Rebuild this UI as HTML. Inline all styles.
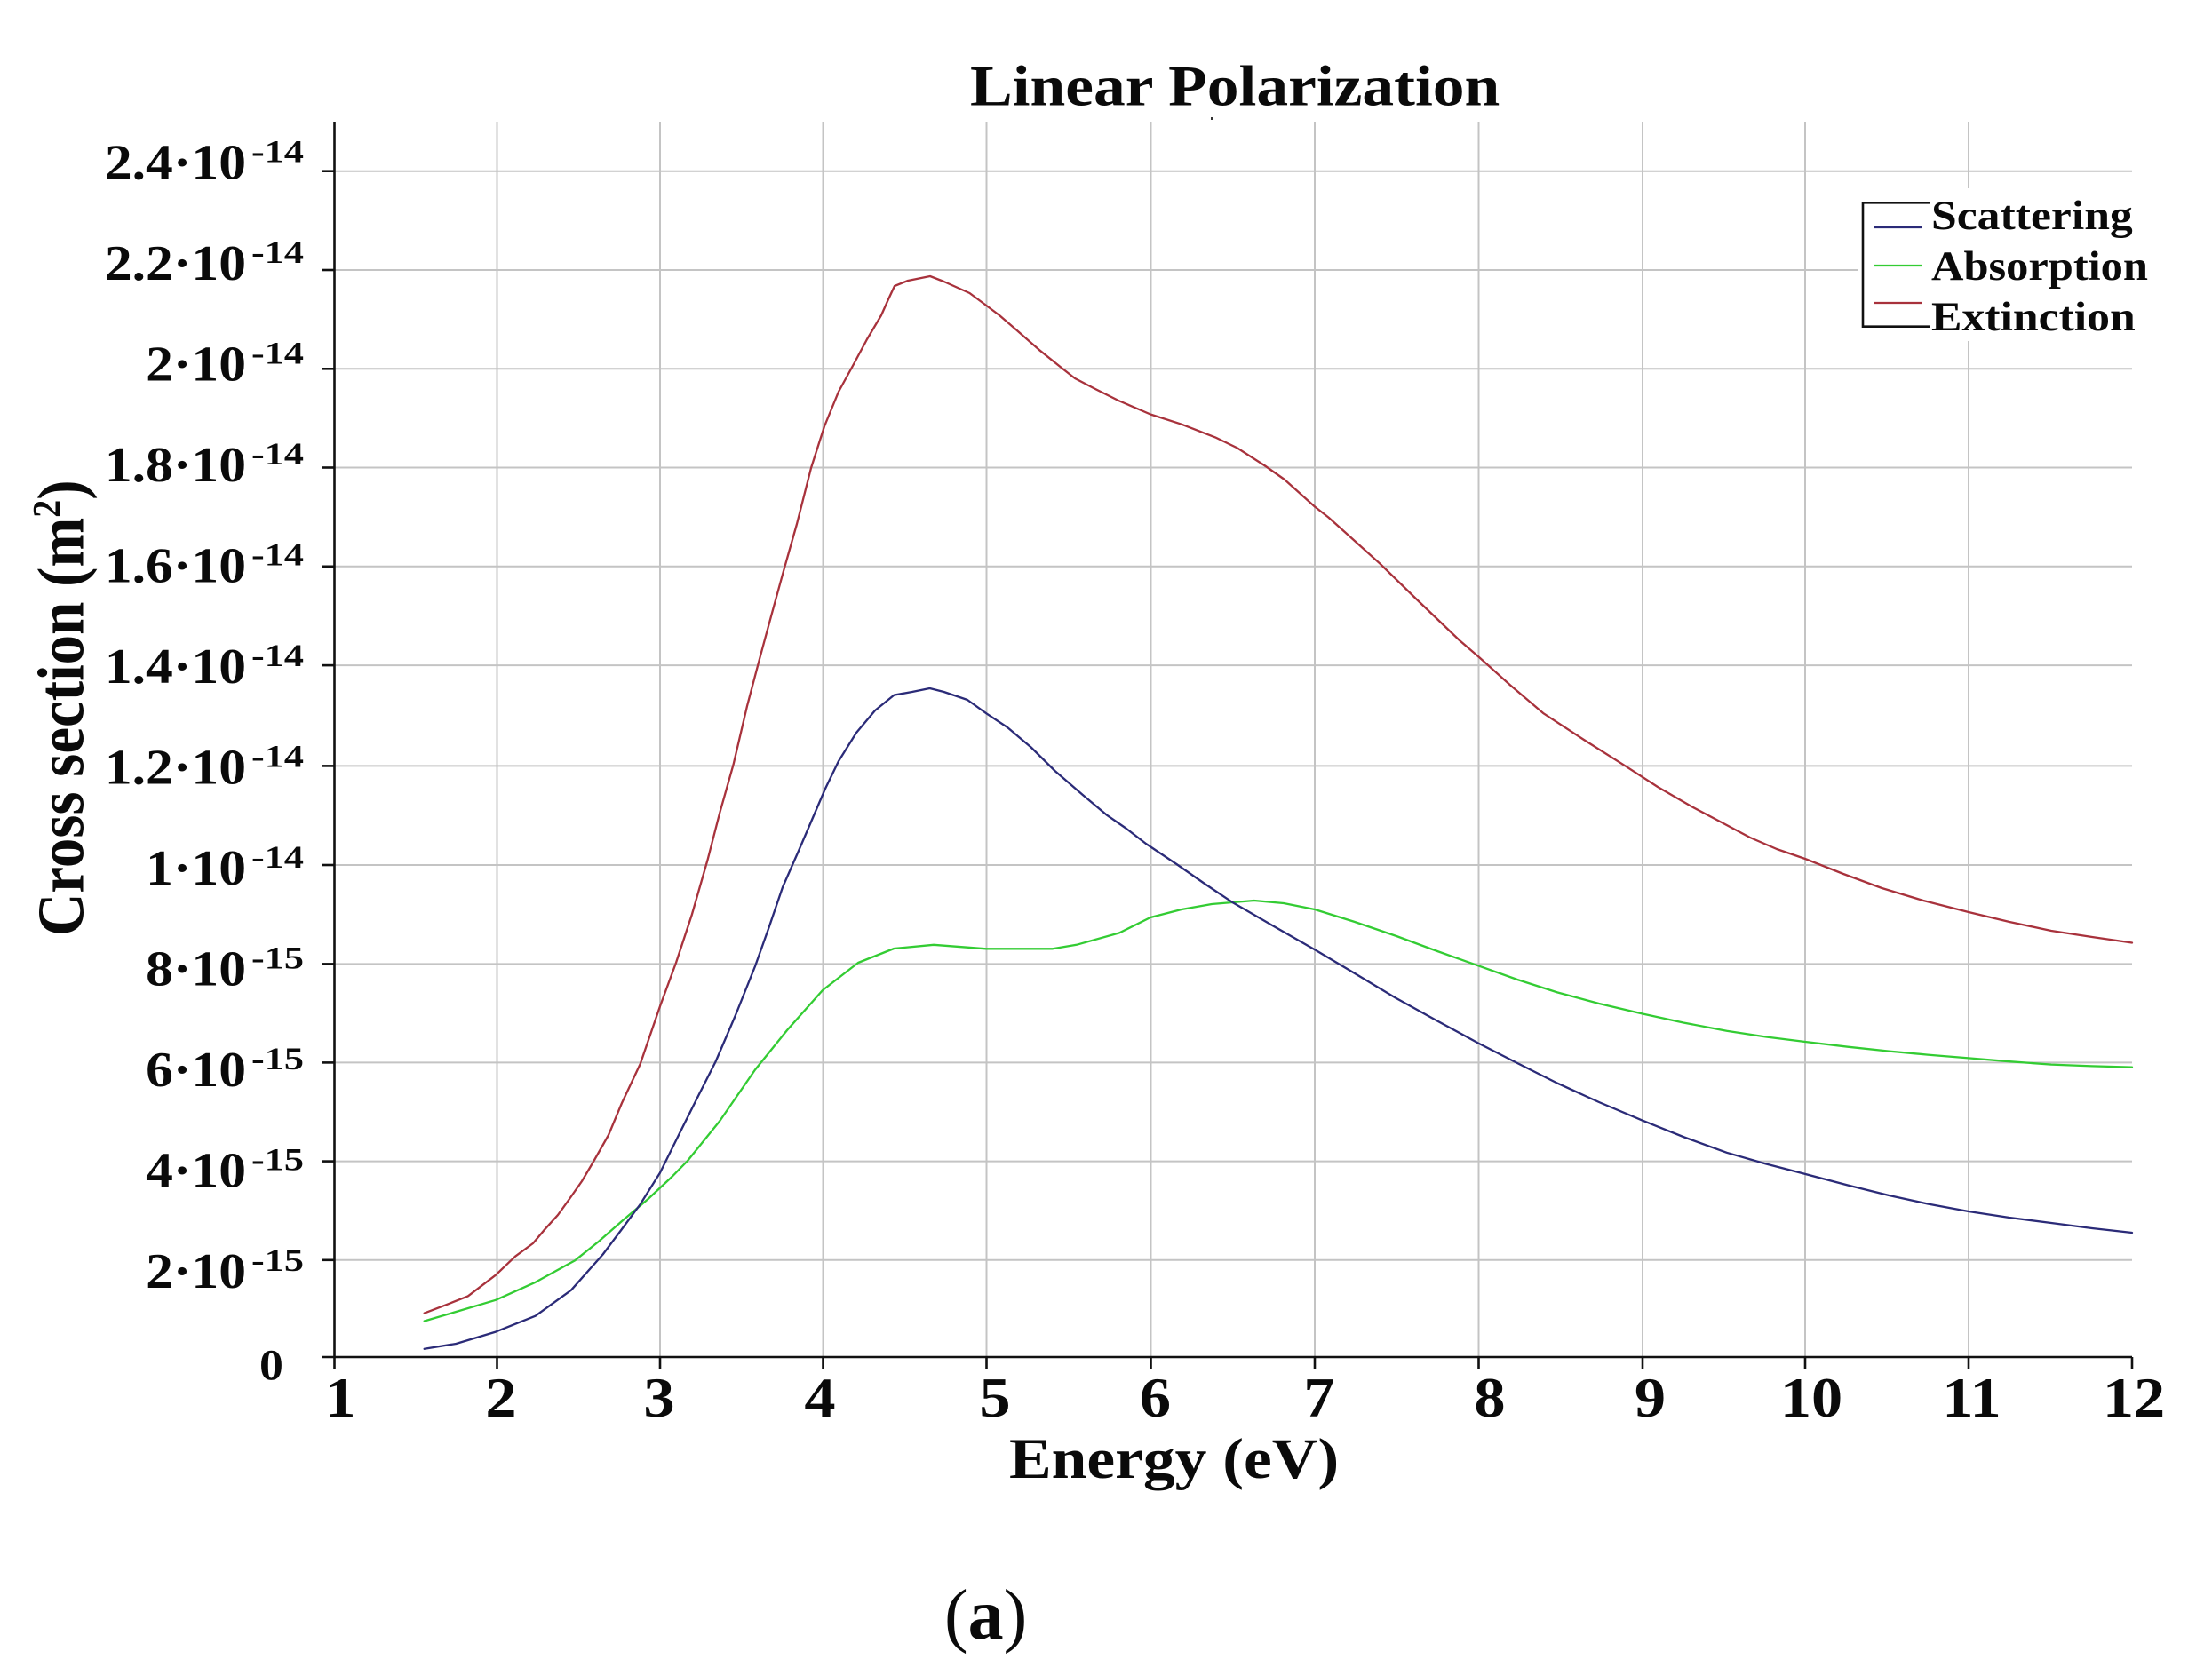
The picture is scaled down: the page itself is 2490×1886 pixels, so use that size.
<!DOCTYPE html>
<html>
<head>
<meta charset="utf-8">
<style>
  html, body { margin: 0; padding: 0; background: #ffffff; }
  svg { display: block; }
  text { font-family: "Liberation Serif", "Times New Roman", serif; font-weight: bold; fill: #0a0a0a; }
</style>
</head>
<body>
<svg width="2490" height="1886" viewBox="0 0 2490 1886" xmlns="http://www.w3.org/2000/svg">
  <rect x="0" y="0" width="2490" height="1886" fill="#ffffff"/>

  <!-- horizontal gridlines -->
  <g stroke="#c4c4c4" stroke-width="2" fill="none">
    <line x1="376.5" y1="192.7" x2="2400" y2="192.7"/>
    <line x1="376.5" y1="304.0" x2="2400" y2="304.0"/>
    <line x1="376.5" y1="415.3" x2="2400" y2="415.3"/>
    <line x1="376.5" y1="526.5" x2="2400" y2="526.5"/>
    <line x1="376.5" y1="637.8" x2="2400" y2="637.8"/>
    <line x1="376.5" y1="749.1" x2="2400" y2="749.1"/>
    <line x1="376.5" y1="862.4" x2="2400" y2="862.4"/>
    <line x1="376.5" y1="974.0" x2="2400" y2="974.0"/>
    <line x1="376.5" y1="1085.4" x2="2400" y2="1085.4"/>
    <line x1="376.5" y1="1196.4" x2="2400" y2="1196.4"/>
    <line x1="376.5" y1="1307.6" x2="2400" y2="1307.6"/>
    <line x1="376.5" y1="1418.8" x2="2400" y2="1418.8"/>
  </g>
  <!-- vertical gridlines -->
  <g stroke="#c4c4c4" stroke-width="2" fill="none">
    <line x1="559.5" y1="137" x2="559.5" y2="1528"/>
    <line x1="743" y1="137" x2="743" y2="1528"/>
    <line x1="926.5" y1="137" x2="926.5" y2="1528"/>
    <line x1="1110.5" y1="137" x2="1110.5" y2="1528"/>
    <line x1="1295.5" y1="137" x2="1295.5" y2="1528"/>
    <line x1="1480" y1="137" x2="1480" y2="1528"/>
    <line x1="1664.5" y1="137" x2="1664.5" y2="1528"/>
    <line x1="1849" y1="137" x2="1849" y2="1528"/>
    <line x1="2032" y1="137" x2="2032" y2="1528"/>
    <line x1="2216" y1="137" x2="2216" y2="1528"/>
  </g>

  <!-- axes -->
  <g stroke="#111111" stroke-width="2.6" fill="none">
    <line x1="376.5" y1="137" x2="376.5" y2="1541"/>
    <line x1="363" y1="1528" x2="2400" y2="1528"/>
    <!-- y ticks -->
    <line x1="363" y1="192.7" x2="376.5" y2="192.7"/>
    <line x1="363" y1="304.0" x2="376.5" y2="304.0"/>
    <line x1="363" y1="415.3" x2="376.5" y2="415.3"/>
    <line x1="363" y1="526.5" x2="376.5" y2="526.5"/>
    <line x1="363" y1="637.8" x2="376.5" y2="637.8"/>
    <line x1="363" y1="749.1" x2="376.5" y2="749.1"/>
    <line x1="363" y1="862.4" x2="376.5" y2="862.4"/>
    <line x1="363" y1="974.0" x2="376.5" y2="974.0"/>
    <line x1="363" y1="1085.4" x2="376.5" y2="1085.4"/>
    <line x1="363" y1="1196.4" x2="376.5" y2="1196.4"/>
    <line x1="363" y1="1307.6" x2="376.5" y2="1307.6"/>
    <line x1="363" y1="1418.8" x2="376.5" y2="1418.8"/>
    <!-- x ticks -->
    <line x1="559.5" y1="1528" x2="559.5" y2="1541"/>
    <line x1="743" y1="1528" x2="743" y2="1541"/>
    <line x1="926.5" y1="1528" x2="926.5" y2="1541"/>
    <line x1="1110.5" y1="1528" x2="1110.5" y2="1541"/>
    <line x1="1295.5" y1="1528" x2="1295.5" y2="1541"/>
    <line x1="1480" y1="1528" x2="1480" y2="1541"/>
    <line x1="1664.5" y1="1528" x2="1664.5" y2="1541"/>
    <line x1="1849" y1="1528" x2="1849" y2="1541"/>
    <line x1="2032" y1="1528" x2="2032" y2="1541"/>
    <line x1="2216" y1="1528" x2="2216" y2="1541"/>
    <line x1="2400" y1="1528" x2="2400" y2="1541"/>
  </g>

  <!-- curves -->
  <g fill="none" stroke-width="2.3" stroke-linejoin="round" stroke-linecap="round">
    <!-- Extinction (red) -->
    <polyline stroke="#a8323c" points="
      477.7,1478.6 504.5,1468.3 526.8,1459.4 558,1435.7 580,1414.7 600,1400 612,1385.7 628,1368 641,1350
      655,1330 668,1308 685,1278 700,1242 720.7,1198 743,1133 761,1084 778.8,1030 796.6,968 810,916
      825.6,860.7 841,795 855,742 868,694 882,643 897,590 913,527 928,480 944,441 961,410 976,382
      992,355 1000,337 1007,322 1022,316 1047,311 1062.5,317 1091.5,330 1109,343 1125,355 1143,370.5
      1169.6,393.8 1196,415 1210,426 1232,437.5 1259,451 1295,466.5 1330,477.7 1368,492.4 1393,504.5
      1424,524.5 1446,540 1480,570.5 1495.5,582.6 1553.6,634.8 1593.8,674 1642.9,721 1665,740 1700,771.4
      1737,802.9 1783,833 1828.6,861.8 1866,886 1904,908 1938,926 1970,943 2000,956 2032,967 2075,984
      2118.4,1000 2165,1014 2216,1027 2262,1038 2309,1048 2355,1055 2400,1061.5"/>
    <!-- Absorption (green) -->
    <polyline stroke="#33cc33" points="
      477.7,1487.5 513.4,1477 558,1463.8 602.7,1443.8 647.3,1419.2 673.8,1398 700,1375 729.6,1350
      756.4,1325 774,1307 810,1262.5 850,1204.5 886,1160 926,1115 966,1084 1006.4,1068 1051,1063.8
      1110,1068.3 1185,1068.3 1211.8,1063.8 1260,1050.4 1295,1033 1330,1024 1364,1018 1411.7,1014
      1445,1017 1480,1024 1525,1038 1572,1054 1618,1071 1664,1087.3 1708,1103 1753,1117.4 1800,1130
      1849,1141.5 1895,1151.5 1943.7,1160.7 1988,1167.5 2032,1173 2080,1178.7 2126.4,1183.6 2170,1187.6
      2216,1191.4 2262,1195.2 2309,1198.6 2355,1200.4 2400,1201.6"/>
    <!-- Scattering (blue) -->
    <polyline stroke="#2b2b78" points="
      477.7,1518.8 513.4,1513 558,1499.6 602.7,1481.7 642.9,1452.7 678.6,1412.5 700,1384 720.7,1356
      743,1320.5 765,1276 785,1236 805.5,1195.5 828,1143 850,1088 866,1043 881,999 899,958 914,923
      929,888 944,857 964,825 985,800 1006.4,782.6 1026.8,779 1046.6,775 1062.5,779 1089,788 1110.7,803.6
      1134,819 1160.7,841.5 1187.5,868 1218.8,895 1245.5,917.4 1268,933 1290,950 1324.4,973 1356,995
      1388,1016.4 1434,1043 1480,1069.3 1525,1096 1570.6,1123.4 1617,1149 1664,1174.5 1708,1197
      1753,1219.6 1800,1241 1849,1261.7 1896,1280.5 1943.7,1297.8 1988,1310.5 2032,1321.9 2080,1334.5
      2126.4,1346 2170,1355.5 2216,1364 2262,1371 2309,1377 2355,1383 2400,1388"/>
  </g>

  <!-- legend -->
  <rect x="2092" y="212" width="352" height="172" fill="#ffffff"/>
  <path d="M2172,228.3 H2097 V367.7 H2172" fill="none" stroke="#111111" stroke-width="2.6"/>
  <line x1="2109" y1="256" x2="2163" y2="256" stroke="#2b2b78" stroke-width="2.3"/>
  <line x1="2109" y1="299" x2="2163" y2="299" stroke="#33cc33" stroke-width="2.3"/>
  <line x1="2109" y1="341" x2="2163" y2="341" stroke="#a8323c" stroke-width="2.3"/>
  <text transform="translate(2174,258) scale(1.1,1)" font-size="47">Scattering</text>
  <text transform="translate(2174,315) scale(1.1,1)" font-size="47" textLength="221.8" lengthAdjust="spacingAndGlyphs">Absorption</text>
  <text transform="translate(2174,372) scale(1.1,1)" font-size="47">Extinction</text>

  <!-- title -->
  <text transform="translate(1092,118.5) scale(1.1,1)" font-size="65">Linear Polarization</text>
  <rect x="1363" y="132" width="3" height="3" fill="#333"/>

  <!-- y tick labels -->
  <g font-size="56" text-anchor="end">
    <text transform="translate(277,201.7) scale(1.1,1)">2.4·10</text>
    <text transform="translate(277,315.2) scale(1.1,1)">2.2·10</text>
    <text transform="translate(277,428.7) scale(1.1,1)">2·10</text>
    <text transform="translate(277,542.2) scale(1.1,1)">1.8·10</text>
    <text transform="translate(277,655.7) scale(1.1,1)">1.6·10</text>
    <text transform="translate(277,769.2) scale(1.1,1)">1.4·10</text>
    <text transform="translate(277,882.7) scale(1.1,1)">1.2·10</text>
    <text transform="translate(277,996.2) scale(1.1,1)">1·10</text>
    <text transform="translate(277,1109.7) scale(1.1,1)">8·10</text>
    <text transform="translate(277,1223.2) scale(1.1,1)">6·10</text>
    <text transform="translate(277,1336.7) scale(1.1,1)">4·10</text>
    <text transform="translate(277,1450.2) scale(1.1,1)">2·10</text>
  </g>
  <g font-size="36">
    <text transform="translate(283,182.7) scale(1.1,1)" textLength="53.6" lengthAdjust="spacingAndGlyphs">-14</text>
    <text transform="translate(283,296.2) scale(1.1,1)" textLength="53.6" lengthAdjust="spacingAndGlyphs">-14</text>
    <text transform="translate(283,409.7) scale(1.1,1)" textLength="53.6" lengthAdjust="spacingAndGlyphs">-14</text>
    <text transform="translate(283,523.2) scale(1.1,1)" textLength="53.6" lengthAdjust="spacingAndGlyphs">-14</text>
    <text transform="translate(283,636.7) scale(1.1,1)" textLength="53.6" lengthAdjust="spacingAndGlyphs">-14</text>
    <text transform="translate(283,750.2) scale(1.1,1)" textLength="53.6" lengthAdjust="spacingAndGlyphs">-14</text>
    <text transform="translate(283,863.7) scale(1.1,1)" textLength="53.6" lengthAdjust="spacingAndGlyphs">-14</text>
    <text transform="translate(283,977.2) scale(1.1,1)" textLength="53.6" lengthAdjust="spacingAndGlyphs">-14</text>
    <text transform="translate(283,1090.7) scale(1.1,1)" textLength="53.6" lengthAdjust="spacingAndGlyphs">-15</text>
    <text transform="translate(283,1204.2) scale(1.1,1)" textLength="53.6" lengthAdjust="spacingAndGlyphs">-15</text>
    <text transform="translate(283,1317.7) scale(1.1,1)" textLength="53.6" lengthAdjust="spacingAndGlyphs">-15</text>
    <text transform="translate(283,1431.2) scale(1.1,1)" textLength="53.6" lengthAdjust="spacingAndGlyphs">-15</text>
  </g>
  <text transform="translate(319,1553) scale(1.1,1)" text-anchor="end" font-size="49">0</text>

  <!-- x tick labels -->
  <g font-size="64" text-anchor="middle">
    <text transform="translate(383,1595) scale(1.1,1)">1</text>
    <text transform="translate(564,1595) scale(1.1,1)">2</text>
    <text transform="translate(742,1595) scale(1.1,1)">3</text>
    <text transform="translate(923,1595) scale(1.1,1)">4</text>
    <text transform="translate(1120,1595) scale(1.1,1)">5</text>
    <text transform="translate(1300.5,1595) scale(1.1,1)">6</text>
    <text transform="translate(1485,1595) scale(1.1,1)">7</text>
    <text transform="translate(1677,1595) scale(1.1,1)">8</text>
    <text transform="translate(1857.5,1595) scale(1.1,1)">9</text>
    <text transform="translate(2039,1595) scale(1.1,1)">10</text>
    <text transform="translate(2219.5,1595) scale(1.1,1)">11</text>
    <text transform="translate(2402,1595) scale(1.1,1)">12</text>
  </g>

  <!-- axis titles -->
  <text transform="translate(1136,1664) scale(1.1,1)" font-size="65">Energy (eV)</text>
  <text transform="translate(93.6,1054) scale(1.1,1) rotate(-90)" font-size="67">Cross section (m<tspan font-size="40" dy="-24">2</tspan><tspan dy="24">)</tspan></text>

  <!-- panel label -->
  <text transform="translate(1063,1845)" font-size="80"><tspan font-weight="normal">(</tspan>a<tspan font-weight="normal">)</tspan></text>
</svg>
</body>
</html>
